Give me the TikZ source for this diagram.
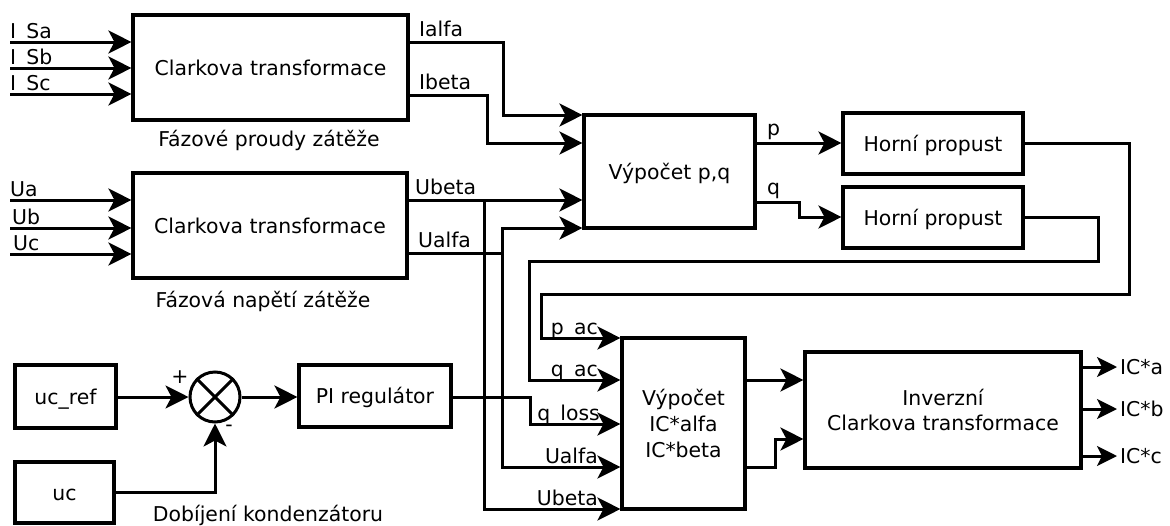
\documentclass[tikz,border=0pt]{standalone}
\usepackage{fontspec}
\setmainfont{DejaVu Sans}
\usetikzlibrary{arrows.meta}
\begin{document}
\begin{tikzpicture}[x=1pt,y=-1pt,
  font=\fontsize{20.4pt}{25pt}\selectfont,
  blk/.style={draw, line width=3.1pt, inner sep=0pt, text height=15pt, text depth=0pt},
  tblk/.style={draw, line width=3.1pt, inner sep=0pt, align=center},
  wire/.style={line width=3pt},
  arr/.style={wire, -{Stealth[length=23pt,width=23pt,inset=6pt]}},
  sarr/.style={wire, -{Stealth[length=20pt,width=20pt,inset=5pt]}},
  lbl/.style={inner sep=0pt, anchor=base west},
  rlbl/.style={inner sep=0pt, anchor=base east},
  captext/.style={inner sep=0pt, anchor=base},
]
\useasboundingbox (0,0) rectangle (1170,525);

% ---- blocks ----
\node[blk, minimum width=275pt, minimum height=105pt] (clarkeI) at (270.5,67.5) {Clarkova transformace};
\node[blk, minimum width=274pt, minimum height=105pt] (clarkeU) at (270,225.5) {Clarkova transformace};
\node[blk, minimum width=171pt, minimum height=113pt] (pq) at (669.5,171.5) {Výpočet p,q};
\node[blk, minimum width=180pt, minimum height=61pt] (hp1) at (933,143.5) {Horní propust};
\node[blk, minimum width=180pt, minimum height=61pt] (hp2) at (933,217.5) {Horní propust};
\node[tblk, minimum width=123pt, minimum height=171pt, font=\fontsize{20.4pt}{26pt}\selectfont] (ic) at (683.5,423.5) {Výpočet\\IC*alfa\\IC*beta};
\node[tblk, minimum width=276pt, minimum height=116pt] (inv) at (943,410) {Inverzní\\Clarkova transformace};
\node[blk, minimum width=101pt, minimum height=63pt] (ucref) at (65.5,396.5) {uc\_ref};
\node[blk, minimum width=99pt, minimum height=61pt] (uc) at (64.5,492.5) {uc};
\node[blk, minimum width=152pt, minimum height=62pt] (pi) at (375,396) {PI regulátor};
\node[draw, circle, line width=3pt, minimum size=50pt, inner sep=0pt] (sum) at (215,397) {};
\draw[wire] (sum.north west) -- (sum.south east);
\draw[wire] (sum.north east) -- (sum.south west);

% ---- captions ----
\node[captext] (capI) at (269,146) {Fázové proudy zátěže};
\node[captext] (capU) at (263,307) {Fázová napětí zátěže};
\node[captext] (capC) at (268,521) {Dobíjení kondenzátoru};

% ---- current inputs ----
\coordinate (isa) at (10,42);
\coordinate (isb) at (10,68);
\coordinate (isc) at (10,94);
\draw[arr] (isa) -- (isa -| clarkeI.west);
\draw[arr] (isb) -- (isb -| clarkeI.west);
\draw[arr] (isc) -- (isc -| clarkeI.west);
\node[lbl] (lisa) at (10,38) {I\_Sa};
\node[lbl] (lisb) at (10,64) {I\_Sb};
\node[lbl] (lisc) at (10,90) {I\_Sc};

% ---- voltage inputs ----
\coordinate (ua) at (10,200);
\coordinate (ub) at (10,228);
\coordinate (ucin) at (10,254);
\draw[arr] (ua) -- (ua -| clarkeU.west);
\draw[arr] (ub) -- (ub -| clarkeU.west);
\draw[arr] (ucin) -- (ucin -| clarkeU.west);
\node[lbl] (lua) at (10,196) {Ua};
\node[lbl] (lub) at (12,224) {Ub};
\node[lbl] (luc) at (13,250) {Uc};

% ---- Clarke outputs to p,q ----
\draw[arr] (clarkeI.east |- 0,42) -- (503,42) -- (503,115) -- (pq.west |- 0,115);
\draw[arr] (clarkeI.east |- 0,95) -- (487,95) -- (487,143) -- (pq.west |- 0,143);
\draw[arr] (clarkeU.east |- 0,200) -- (pq.west |- 0,200);
\draw[arr] (clarkeU.east |- 0,253) -| (502,228) -- (pq.west |- 0,228);
\node[lbl] (lia) at (419,36) {Ialfa};
\node[lbl] (lib) at (419,89) {Ibeta};
\node[lbl] (lub2) at (415,194) {Ubeta};
\node[lbl] (lua2) at (418,247) {Ualfa};

% ---- p,q to high-pass filters ----
\draw[arr] (pq.east |- 0,143) -- (hp1.west |- 0,143);
\draw[arr] (pq.east |- 0,202) -- (799,202) -- (799,217) -- (hp2.west |- 0,217);
\node[lbl] (lp) at (767,135) {p};
\node[lbl] (lq) at (767,194) {q};

% ---- feedback to IC computation ----
\draw[arr] (hp1.east |- 0,143) -- (1129,143) -- (1129,294) -- (541,294) -- (541,338) -- (ic.west |- 0,338);
\draw[arr] (hp2.east |- 0,217) -- (1098,217) -- (1098,261) -- (529,261) -- (529,380) -- (ic.west |- 0,380);
\draw[arr] (pi.east |- 0,397) -- (530,397) -- (530,424) -- (ic.west |- 0,424);
\draw[arr] (clarkeU.east |- 0,253) -| (502,467) -- (ic.west |- 0,467);
\draw[arr] (clarkeU.east |- 0,200) -| (484,509) -- (ic.west |- 0,509);
\node[rlbl] (lpac) at (598,334) {p\_ac};
\node[rlbl] (lqac) at (598,376) {q\_ac};
\node[rlbl] (lql) at (600,420) {q\_loss};
\node[rlbl] (lua3) at (598,463) {Ualfa};
\node[rlbl] (lub3) at (598,505) {Ubeta};

% ---- DC-link regulation ----
\draw[arr] (ucref.east |- sum.west) -- (sum.west);
\draw[arr] (uc.east) -- (uc.east -| sum.south) -- (sum.south);
\draw[arr] (sum.east) -- (pi.west |- sum.east);
\node[inner sep=0pt] (plus) at (180,377) {+};
\node[inner sep=0pt] (minus) at (229,428) {-};

% ---- IC to inverse Clarke ----
\draw[arr] (ic.east |- 0,380) -- (inv.west |- 0,380);
\draw[arr] (ic.east |- 0,467) -- (775,467) -- (775,439) -- (inv.west |- 0,439);

% ---- outputs ----
\coordinate (oa) at (1117,367);
\coordinate (ob) at (1117,409);
\coordinate (oc) at (1117,456);
\draw[sarr] (inv.east |- oa) -- (oa);
\draw[sarr] (inv.east |- ob) -- (ob);
\draw[sarr] (inv.east |- oc) -- (oc);
\node[inner sep=0pt, anchor=west] (la) at (1120,367) {IC*a};
\node[inner sep=0pt, anchor=west] (lb) at (1120,409) {IC*b};
\node[inner sep=0pt, anchor=west] (lc) at (1120,456) {IC*c};
\end{tikzpicture}
\end{document}
